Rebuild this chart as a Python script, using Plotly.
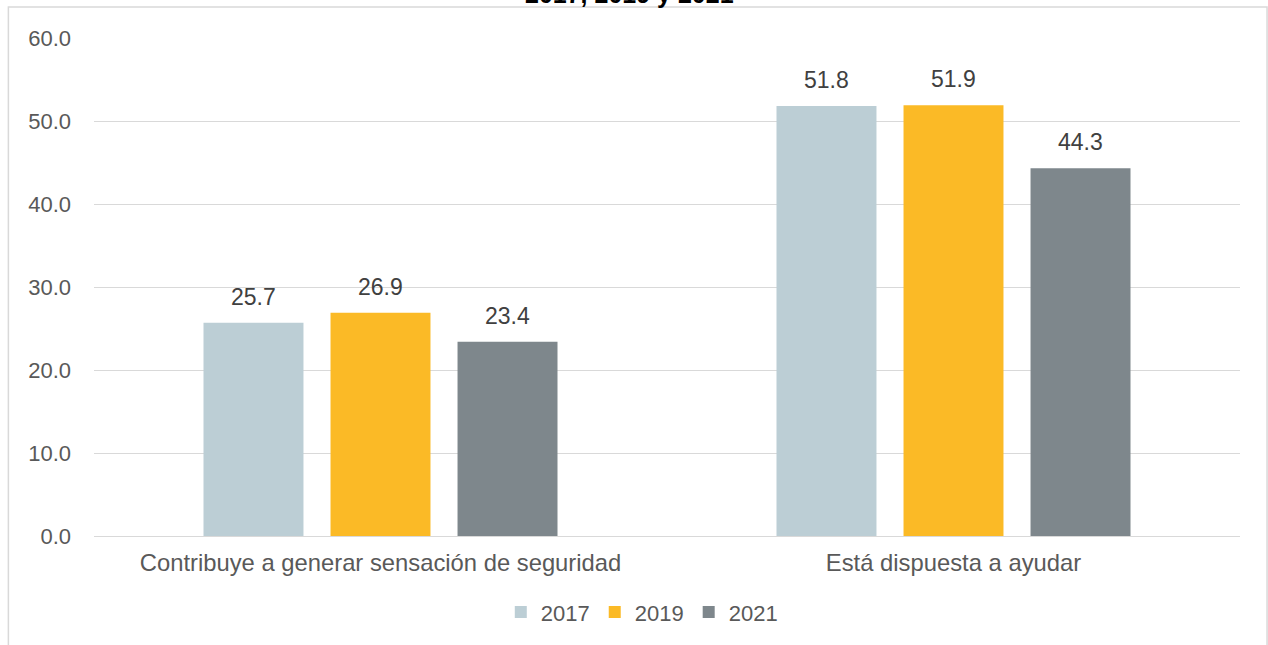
import plotly.graph_objects as go

categories = ["Contribuye a generar sensación de seguridad", "Está dispuesta a ayudar"]
years = ["2017", "2019", "2021"]
values_2017 = [25.7, 51.8]
values_2019 = [26.9, 51.9]
values_2021 = [23.4, 44.3]
y_ticks = [0, 10, 20, 30, 40, 50, 60]

series = [values_2017, values_2019, values_2021]
colors = ["#BCCED5", "#FBBA26", "#7E878C"]

FONT = "Liberation Sans, Arial, sans-serif"
BARGAP = 0.335
GROUPGAP = 0.213

fig = go.Figure()
for name, vals, col in zip(years, series, colors):
    fig.add_trace(go.Bar(
        x=categories, y=vals, name=name,
        marker=dict(color=col, line=dict(width=0)),
        hoverinfo="x+y+name",
    ))

# value labels above each bar, placed over the bar centres of each group
slot = (1 - BARGAP) / len(years)
annotations = []
for k, vals in enumerate(series):
    off = (k - (len(years) - 1) / 2) * slot
    for i, v in enumerate(vals):
        annotations.append(dict(
            x=i + off, y=v, xref="x", yref="y", text=f"{v:.1f}",
            showarrow=False, yanchor="bottom", yshift=11,
            font=dict(family=FONT, size=23, color="#404040"),
        ))

annotations.append(dict(
    x=0.4677, y=1.056, xref="paper", yref="paper", text="<b>2017, 2019 y 2021</b>",
    showarrow=False, yanchor="bottom", xanchor="center",
    font=dict(family=FONT, size=25, color="#000000"),
))

fig.update_layout(
    width=1268, height=645,
    margin=dict(l=94, r=28, t=38, b=109),
    paper_bgcolor="white", plot_bgcolor="white",
    barmode="group", bargap=BARGAP, bargroupgap=GROUPGAP,
    font=dict(family=FONT, size=22, color="#595959"),
    annotations=annotations,
    showlegend=True,
    legend=dict(orientation="h", x=0.478, xanchor="center", y=-0.153, yanchor="middle",
                font=dict(family=FONT, size=22, color="#595959"),
                itemwidth=30, traceorder="normal"),
    xaxis=dict(showgrid=False, showline=False, ticks="", ticklabelstandoff=10,
               tickfont=dict(family=FONT, size=23.8, color="#595959")),
    yaxis=dict(range=[0, 60], tickvals=y_ticks, tickformat=".1f",
               showgrid=True, gridcolor="#D9D9D9", gridwidth=1,
               zeroline=True, zerolinecolor="#D9D9D9", zerolinewidth=1,
               showline=False, ticks="", ticklabelstandoff=22,
               tickfont=dict(family=FONT, size=22, color="#595959")),
    shapes=[dict(type="rect", xref="paper", yref="paper",
                 x0=-0.0747, x1=1.0236, y0=-0.3, y1=1.0622,
                 line=dict(color="#D9D9D9", width=1.5), fillcolor="rgba(0,0,0,0)",
                 layer="below")],
)

fig.write_html("out.html")
